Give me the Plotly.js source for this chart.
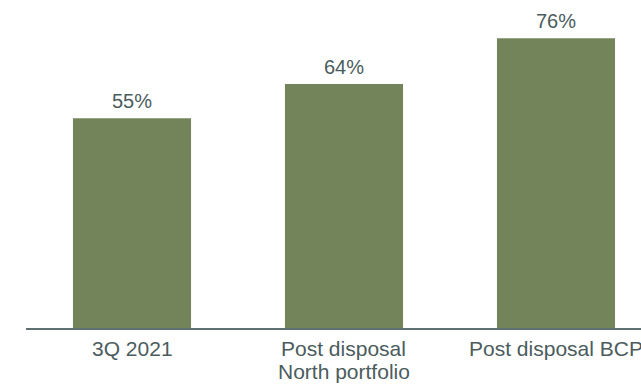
<!DOCTYPE html>
<html>
<head>
<meta charset="utf-8">
<script src="https://cdn.plot.ly/plotly-3.0.1.min.js"></script>
<style>html,body{margin:0;padding:0;background:#fff;}#chart{width:641px;height:384px;}</style>
</head>
<body>
<div id="chart"></div>
<script>
const categories = ["3Q 2021", "Post disposal<br>North portfolio", "Post disposal BCP"];
const values = [55, 64, 76];
const labels = ["55%", "64%", "76%"];

const FONT = 'Liberation Sans, Arial, sans-serif';
const TXT = '#4b5c5d';

const trace = {
  type: 'bar',
  x: categories,
  y: values,
  marker: {color: '#74845a', line: {width: 0}},
  width: 0.557,
  hoverinfo: 'none'
};

const annotations = categories.map((c, i) => ({
  x: c,
  y: values[i],
  xref: 'x',
  yref: 'y',
  text: labels[i],
  showarrow: false,
  xanchor: 'center',
  yanchor: 'bottom',
  yshift: 4,
  font: {family: FONT, size: 20, color: TXT}
}));

// category labels below the axis, one annotation per line for tight line spacing
categories.forEach((c) => {
  c.split('<br>').forEach((line, j) => {
    annotations.push({
      x: c,
      y: 0,
      xref: 'x',
      yref: 'paper',
      text: line,
      showarrow: false,
      xanchor: 'center',
      yanchor: 'top',
      yshift: -7 - 23 * j,
      font: {family: FONT, size: 21, color: TXT}
    });
  });
});

const layout = {
  width: 641,
  height: 384,
  margin: {l: 26, r: 0, t: 0, b: 56, pad: 0},
  paper_bgcolor: '#ffffff',
  plot_bgcolor: '#ffffff',
  showlegend: false,
  font: {family: FONT, size: 20, color: TXT},
  annotations: annotations,
  xaxis: {
    type: 'category',
    range: [-0.5, 2.401],
    showline: true,
    linecolor: '#5f7070',
    linewidth: 2,
    ticks: '',
    showticklabels: false,
    showgrid: false,
    zeroline: false,
    automargin: false
  },
  yaxis: {
    range: [0, 86],
    visible: false,
    showgrid: false,
    zeroline: false,
    fixedrange: true
  }
};

Plotly.newPlot('chart', [trace], layout, {staticPlot: true, displayModeBar: false});
</script>
</body>
</html>
